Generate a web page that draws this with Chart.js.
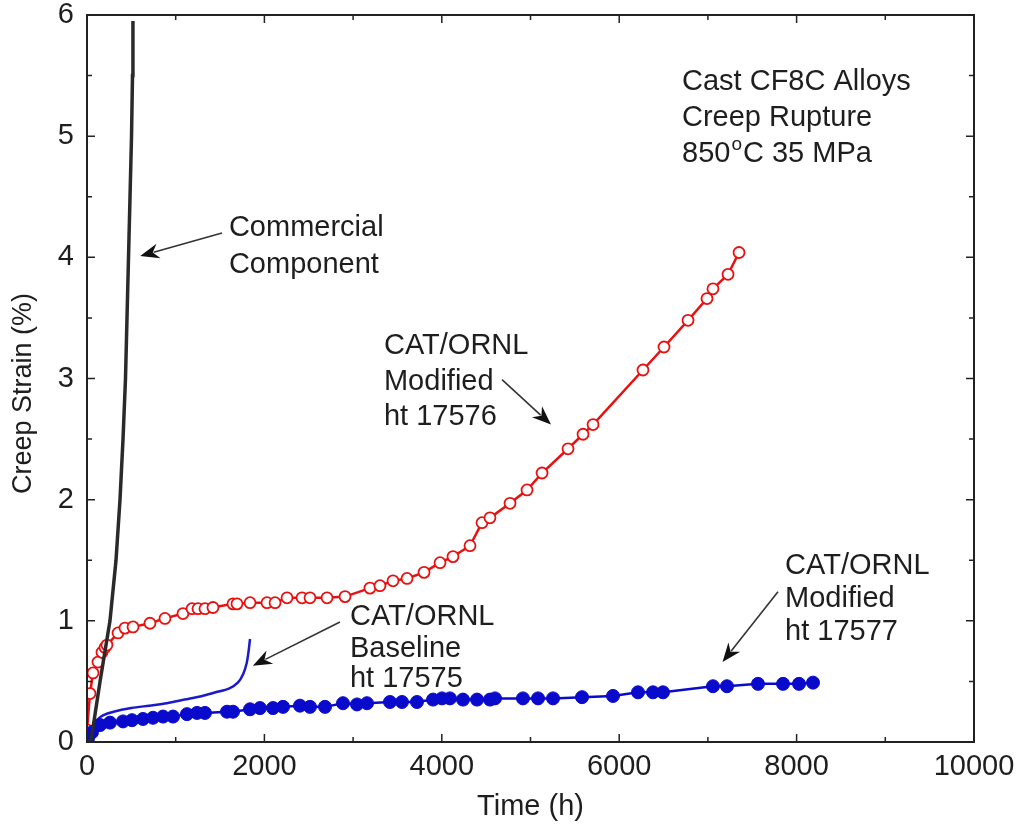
<!DOCTYPE html>
<html>
<head>
<meta charset="utf-8">
<script src="https://cdn.jsdelivr.net/npm/chart.js@4.4.1/dist/chart.umd.min.js"></script>
<style>
  html, body { margin: 0; padding: 0; background: #ffffff; }
  #wrap { width: 1018px; height: 824px; position: relative; }
</style>
</head>
<body>
<div id="wrap"><canvas id="c" width="1018" height="824"></canvas></div>
<script>
// ---------- data ----------
const commercialHours  = [0, 45, 68, 147, 259, 327, 372, 406, 434, 451, 468, 485, 502, 513, 518];
const commercialStrain = [0, 0.02, 0.12, 0.5, 1.0, 1.5, 2.0, 2.5, 3.0, 3.5, 4.0, 4.5, 5.0, 5.5, 5.95];

const ht17576Hours  = [0, 34, 68, 124, 169, 203, 225, 350, 428, 519, 710, 879, 1082, 1184, 1251, 1330, 1420, 1646, 1691, 1838, 2029, 2120, 2255, 2424, 2514, 2706, 2909, 3190, 3303, 3450, 3608, 3800, 3980, 4126, 4318, 4453, 4543, 4769, 4961, 5130, 5423, 5592, 5705, 6268, 6505, 6776, 6990, 7057, 7227, 7351];
const ht17576Strain = [0.1, 0.40, 0.57, 0.66, 0.74, 0.78, 0.80, 0.90, 0.94, 0.95, 0.98, 1.02, 1.06, 1.10, 1.10, 1.10, 1.11, 1.14, 1.14, 1.15, 1.15, 1.15, 1.19, 1.19, 1.19, 1.19, 1.20, 1.27, 1.29, 1.33, 1.35, 1.40, 1.48, 1.53, 1.62, 1.81, 1.85, 1.97, 2.08, 2.22, 2.42, 2.54, 2.62, 3.07, 3.26, 3.48, 3.66, 3.74, 3.86, 4.04];

const ht17575Hours  = [0, 30, 60, 110, 180, 300, 500, 700, 900, 1100, 1300, 1450, 1600, 1700, 1760, 1800, 1820, 1838];
const ht17575Strain = [0.02, 0.08, 0.13, 0.18, 0.22, 0.25, 0.28, 0.30, 0.32, 0.35, 0.38, 0.41, 0.44, 0.49, 0.56, 0.65, 0.74, 0.85];

const ht17577Hours  = [0, 11, 56, 147, 259, 406, 507, 631, 744, 857, 970, 1127, 1240, 1330, 1578, 1646, 1838, 1950, 2097, 2210, 2401, 2514, 2683, 2886, 3044, 3157, 3416, 3551, 3720, 3901, 4002, 4092, 4239, 4397, 4543, 4600, 4915, 5085, 5254, 5581, 5930, 6212, 6381, 6494, 7057, 7215, 7565, 7847, 8027, 8185];
const ht17577Strain = [0.0, 0.03, 0.08, 0.14, 0.16, 0.17, 0.18, 0.19, 0.20, 0.21, 0.21, 0.23, 0.24, 0.24, 0.25, 0.25, 0.27, 0.28, 0.28, 0.29, 0.30, 0.29, 0.29, 0.32, 0.31, 0.32, 0.33, 0.33, 0.33, 0.35, 0.36, 0.36, 0.35, 0.35, 0.35, 0.36, 0.36, 0.36, 0.36, 0.37, 0.38, 0.41, 0.41, 0.41, 0.46, 0.46, 0.48, 0.48, 0.48, 0.49];

const xTickLabels = [0, 2000, 4000, 6000, 8000, 10000];
const yTickLabels = [0, 1, 2, 3, 4, 5, 6];
const xMinorTicks = [1000, 3000, 5000, 7000, 9000];
const yMinorTicks = [0.5, 1.5, 2.5, 3.5, 4.5, 5.5];

// annotation texts, placed in data units (hours, strain)
const noteTexts = [
  { h: 6708, s: 5.45, t: 'Cast CF8C Alloys' },
  { h: 6708, s: 5.15, t: 'Creep Rupture' },
  { h: 1600, s: 4.24, t: 'Commercial' },
  { h: 1600, s: 3.94, t: 'Component' },
  { h: 3348, s: 3.27, t: 'CAT/ORNL' },
  { h: 3348, s: 2.97, t: 'Modified' },
  { h: 3348, s: 2.68, t: 'ht 17576' },
  { h: 2965, s: 1.03, t: 'CAT/ORNL' },
  { h: 2965, s: 0.77, t: 'Baseline' },
  { h: 2965, s: 0.52, t: 'ht 17575' },
  { h: 7870, s: 1.45, t: 'CAT/ORNL' },
  { h: 7870, s: 1.18, t: 'Modified' },
  { h: 7870, s: 0.91, t: 'ht 17577' }
];
const tempNote = { h: 6708, s: 4.85, base: '850', sup: 'o', rest: 'C 35 MPa' };
// arrows: tail -> head, in data units
const arrows = [
  { h0: 1522, s0: 4.20, h1: 600,  s1: 4.01 },
  { h0: 4679, s0: 2.99, h1: 5231, s1: 2.62 },
  { h0: 2852, s0: 0.99, h1: 1870, s1: 0.63 },
  { h0: 7790, s0: 1.24, h1: 7165, s1: 0.66 }
];

const zip = (xs, ys) => xs.map((x, i) => ({ x: x, y: ys[i] }));
const FONT = 'Liberation Sans, Arial, Helvetica, sans-serif';
const TXT = '#1e1e1e';
const FS = 29;

const framePlugin = {
  id: 'frameAndNotes',
  afterDraw(chart) {
    const ctx = chart.ctx;
    const xs = chart.scales.x, ys = chart.scales.y;
    const a = chart.chartArea;
    ctx.save();
    ctx.strokeStyle = '#222';
    ctx.lineWidth = 2;
    ctx.strokeRect(a.left, a.top, a.right - a.left, a.bottom - a.top);
    ctx.lineWidth = 1.5;
    ctx.beginPath();
    const tx = (v, len) => {
      const p = xs.getPixelForValue(v);
      ctx.moveTo(p, a.bottom); ctx.lineTo(p, a.bottom - len);
      ctx.moveTo(p, a.top); ctx.lineTo(p, a.top + len);
    };
    const ty = (v, len) => {
      const p = ys.getPixelForValue(v);
      ctx.moveTo(a.left, p); ctx.lineTo(a.left + len, p);
      ctx.moveTo(a.right, p); ctx.lineTo(a.right - len, p);
    };
    xTickLabels.forEach(v => tx(v, 8));
    xMinorTicks.forEach(v => tx(v, 5));
    yTickLabels.forEach(v => ty(v, 8));
    yMinorTicks.forEach(v => ty(v, 5));
    ctx.stroke();

    // annotation texts
    ctx.fillStyle = TXT;
    ctx.font = FS + 'px ' + FONT;
    ctx.textAlign = 'left';
    ctx.textBaseline = 'middle';
    noteTexts.forEach(n => {
      ctx.fillText(n.t, xs.getPixelForValue(n.h), ys.getPixelForValue(n.s));
    });
    let px = xs.getPixelForValue(tempNote.h), py = ys.getPixelForValue(tempNote.s);
    ctx.fillText(tempNote.base, px, py);
    px += ctx.measureText(tempNote.base).width + 1;
    ctx.font = '19px ' + FONT;
    ctx.fillText(tempNote.sup, px, py - 10);
    px += ctx.measureText(tempNote.sup).width + 1;
    ctx.font = FS + 'px ' + FONT;
    ctx.fillText(tempNote.rest, px, py);

    // arrows
    arrows.forEach(ar => {
      const x0 = xs.getPixelForValue(ar.h0), y0 = ys.getPixelForValue(ar.s0);
      const x1 = xs.getPixelForValue(ar.h1), y1 = ys.getPixelForValue(ar.s1);
      const ang = Math.atan2(y1 - y0, x1 - x0);
      const L = 19, W = 7.5;
      const c = Math.cos(ang), s = Math.sin(ang);
      const bx = x1 - L * c, by = y1 - L * s;
      ctx.strokeStyle = '#333';
      ctx.lineWidth = 1.6;
      ctx.beginPath();
      ctx.moveTo(x0, y0); ctx.lineTo(bx + 5 * c, by + 5 * s);
      ctx.stroke();
      ctx.fillStyle = '#111';
      ctx.beginPath();
      ctx.moveTo(x1, y1);
      ctx.lineTo(bx + W * s, by - W * c);
      ctx.lineTo(bx + 6 * c, by + 6 * s);
      ctx.lineTo(bx - W * s, by + W * c);
      ctx.closePath();
      ctx.fill();
    });
    ctx.restore();
  }
};

new Chart(document.getElementById('c'), {
  type: 'scatter',
  data: {
    datasets: [
      {
        label: 'Commercial Component',
        data: zip(commercialHours, commercialStrain),
        showLine: true, borderColor: '#2a2a2a', borderWidth: 3.5,
        pointRadius: 0, fill: false, tension: 0
      },
      {
        label: 'CAT/ORNL Modified ht 17577',
        data: zip(ht17577Hours, ht17577Strain),
        showLine: true, borderColor: '#0a0acc', borderWidth: 2.5,
        pointRadius: 6.5, pointBackgroundColor: '#0a0acc', pointBorderColor: '#0a0acc', pointBorderWidth: 1,
        fill: false, tension: 0
      },
      {
        label: 'CAT/ORNL Baseline ht 17575',
        data: zip(ht17575Hours, ht17575Strain),
        showLine: true, borderColor: '#1a1acc', borderWidth: 2.5,
        pointRadius: 0, fill: false, tension: 0.3
      },
      {
        label: 'CAT/ORNL Modified ht 17576',
        data: zip(ht17576Hours, ht17576Strain),
        showLine: true, borderColor: '#e81010', borderWidth: 2.5,
        pointRadius: 5.5, pointBackgroundColor: '#ffffff', pointBorderColor: '#e81010', pointBorderWidth: 1.8,
        fill: false, tension: 0
      }
    ]
  },
  options: {
    responsive: false,
    animation: false,
    devicePixelRatio: 1,
    layout: { padding: { left: 0, right: 44, top: 15, bottom: 0 } },
    plugins: { legend: { display: false }, tooltip: { enabled: false } },
    scales: {
      x: {
        type: 'linear', min: 0, max: 10000,
        afterBuildTicks: s => { s.ticks = xTickLabels.map(v => ({ value: v })); },
        afterFit: s => { s.height = 82; s.paddingLeft = 0; s.paddingRight = 0; },
        grid: { display: false, drawTicks: false },
        border: { display: false },
        ticks: { color: TXT, font: { family: FONT, size: FS }, padding: 8, maxRotation: 0, autoSkip: false,
                 callback: v => String(v) },
        title: { display: true, text: 'Time (h)', color: TXT, font: { family: FONT, size: FS }, padding: { top: 2, bottom: 0 } }
      },
      y: {
        type: 'linear', min: 0, max: 6,
        afterBuildTicks: s => { s.ticks = yTickLabels.map(v => ({ value: v })); },
        afterFit: s => { s.width = 87; s.paddingTop = 0; s.paddingBottom = 0; },
        grid: { display: false, drawTicks: false },
        border: { display: false },
        ticks: { color: TXT, font: { family: FONT, size: FS }, padding: 13, autoSkip: false,
                 callback: v => String(v) },
        title: { display: true, text: 'Creep Strain (%)    ', color: TXT, font: { family: FONT, size: 27 }, padding: { top: 7, bottom: 0 } }
      }
    }
  },
  plugins: [framePlugin]
});
</script>
</body>
</html>
